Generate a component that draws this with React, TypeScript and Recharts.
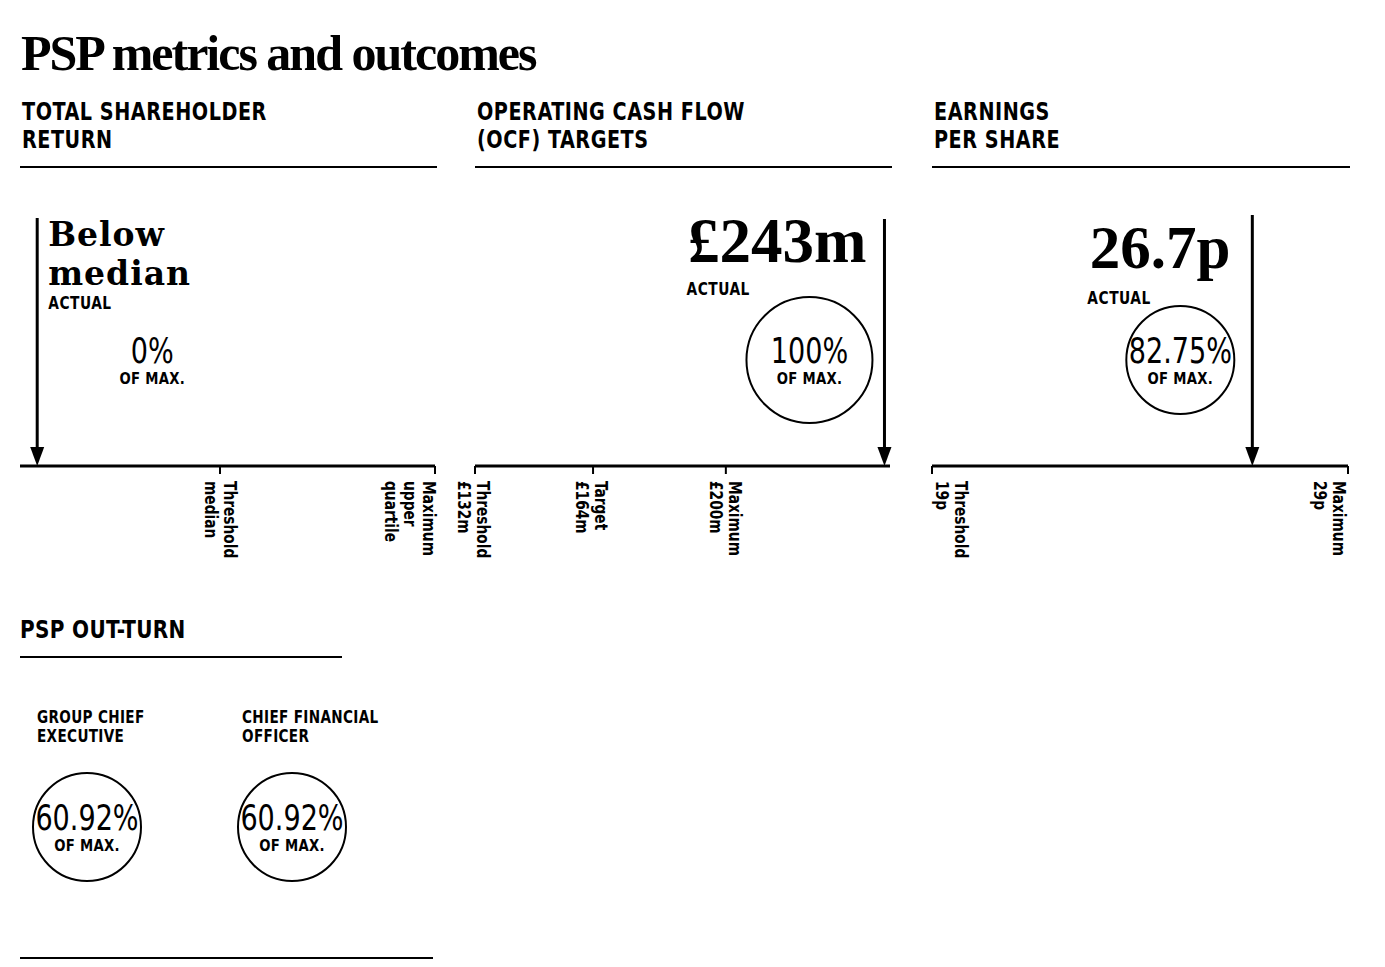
import React from 'react'
import { ComposedChart, ScatterChart, Scatter, XAxis, YAxis, ReferenceLine } from 'recharts'

const SERIF = '"Liberation Serif", "Times New Roman", serif'
const SLAB = '"DejaVu Serif", "Liberation Serif", serif'
const NARROW = '"Liberation Sans Narrow", "DejaVu Sans Condensed", "Arial Narrow", sans-serif'

// Total shareholder return (ordinal scale: below median / median / upper quartile)
const tsrTicks = [1, 2]
const tsrTickLabels = [['Threshold', 'median'], ['Maximum', 'upper', 'quartile']]
const tsrDomain = [0.07, 2]
const tsrActual = 0.15
const tsrActualText = ['Below', 'median']
const tsrOutcome = 0

// Operating cash flow (£m)
const ocfTicks = [132, 164, 200]
const ocfTickLabels = [['Threshold', '£132m'], ['Target', '£164m'], ['Maximum', '£200m']]
const ocfDomain = [132, 244.5]
const ocfActual = 243
const ocfActualText = ['£243m']
const ocfOutcome = 100

// Earnings per share (p)
const epsTicks = [19, 29]
const epsTickLabels = [['Threshold', '19p'], ['Maximum', '29p']]
const epsDomain = [19, 29]
const epsActual = 26.7
const epsActualText = ['26.7p']
const epsOutcome = 82.75

// PSP out-turn
const outturnRoles = [['GROUP CHIEF', 'EXECUTIVE'], ['CHIEF FINANCIAL', 'OFFICER']]
const outturnValues = [60.92, 60.92]

interface Panel {
  title: string[]
  ticks: number[]
  tickLabels: string[][]
  tickDx: number[]
  domain: number[]
  actual: number
  actualText: string[]
  outcome: number
  plotLeft: number
  plotRight: number
  arrowTop: number
  note: {
    font: string
    size: number
    spacing: number
    anchor: 'start' | 'end'
    dx: number
    dy: number
    lh: number
    actualDx: number
    actualDy: number
    ringDx: number
    ringDy: number
    ring: number
  }
}

const panels: Panel[] = [
  {
    title: ['TOTAL SHAREHOLDER', 'RETURN'],
    ticks: tsrTicks, tickLabels: tsrTickLabels, tickDx: [4, -12],
    domain: tsrDomain, actual: tsrActual, actualText: tsrActualText, outcome: tsrOutcome,
    plotLeft: 20, plotRight: 435, arrowTop: 218,
    note: { font: SLAB, size: 33, spacing: 1, anchor: 'start', dx: 11, dy: 28, lh: 38.6,
      actualDx: 11, actualDy: 91, ringDx: 115, ringDy: 142, ring: 0 },
  },
  {
    title: ['OPERATING CASH FLOW', '(OCF) TARGETS'],
    ticks: ocfTicks, tickLabels: ocfTickLabels, tickDx: [2, 2, 3],
    domain: ocfDomain, actual: ocfActual, actualText: ocfActualText, outcome: ocfOutcome,
    plotLeft: 475, plotRight: 890, arrowTop: 219,
    note: { font: SERIF, size: 63, spacing: 0, anchor: 'end', dx: -18, dy: 43, lh: 0,
      actualDx: -198, actualDy: 76, ringDx: -75, ringDy: 141, ring: 63 },
  },
  {
    title: ['EARNINGS', 'PER SHARE'],
    ticks: epsTicks, tickLabels: epsTickLabels, tickDx: [23, -15],
    domain: epsDomain, actual: epsActual, actualText: epsActualText, outcome: epsOutcome,
    plotLeft: 932, plotRight: 1348, arrowTop: 215,
    note: { font: SERIF, size: 61, spacing: 0, anchor: 'end', dx: -22, dy: 53, lh: 0,
      actualDx: -165, actualDy: 89, ringDx: -72, ringDy: 145, ring: 54 },
  },
]

const CHART_TOP = 180
const CHART_H = 400
const SIDE = 30

// condensed sans text: squeezed horizontally around its anchor point
function Cond({ x, y, sx = 0.88, rot = 0, size, bold = true, anchor = 'start', spacing = 0, children }: any) {
  return (
    <text transform={`translate(${x},${y})${rot ? ` rotate(${rot})` : ''} scale(${sx},1)`}
      fontFamily={NARROW} fontWeight={bold ? 700 : 400} fontSize={size} textAnchor={anchor}
      letterSpacing={spacing} fill="#000">
      {children}
    </text>
  )
}

function Outcome({ cx, cy, value, ring }: { cx: number; cy: number; value: number; ring: number }) {
  return (
    <g>
      {ring > 0 && <circle cx={cx} cy={cy} r={ring} fill="none" stroke="#000" strokeWidth={2} />}
      <Cond x={cx} y={cy + 3} sx={0.86} size={35} bold={false} anchor="middle">{`${value}%`}</Cond>
      <Cond x={cx} y={cy + 24} sx={0.92} size={16} anchor="middle" spacing={0.3}>OF MAX.</Cond>
    </g>
  )
}

const makeArrow = (p: Panel) => (props: any) => {
  const x = props.x1
  const top = Math.min(props.y1, props.y2)
  const bottom = Math.max(props.y1, props.y2)
  const n = p.note
  return (
    <g>
      <line x1={x} x2={x} y1={top} y2={bottom - 16} stroke="#000" strokeWidth={3} />
      <polygon points={`${x - 7},${bottom - 19} ${x + 7},${bottom - 19} ${x},${bottom}`} fill="#000" />
      {p.actualText.map((t, i) => (
        <text key={i} x={x + n.dx} y={top + n.dy + i * n.lh} textAnchor={n.anchor}
          fontFamily={n.font} fontWeight={700} fontSize={n.size} letterSpacing={n.spacing} fill="#000">
          {t}
        </text>
      ))}
      <Cond x={x + n.actualDx} y={top + n.actualDy} sx={0.9} size={17} spacing={0.6}>ACTUAL</Cond>
      <Outcome cx={x + n.ringDx} cy={top + n.ringDy} value={p.outcome} ring={n.ring} />
    </g>
  )
}

const makeTick = (p: Panel) => (props: any) => {
  const { x, y, payload } = props
  const i = p.ticks.indexOf(payload.value)
  if (i < 0) return <g />
  return (
    <Cond x={x + p.tickDx[i]} y={y + 5} rot={90} sx={0.85} size={18}>
      {p.tickLabels[i].map((t, j) => (
        <tspan key={j} x={0} y={j * 19}>{t}</tspan>
      ))}
    </Cond>
  )
}

function MetricChart({ p }: { p: Panel }) {
  const w = p.plotRight - p.plotLeft + SIDE * 2
  const data = [{ v: p.actual, y: 0 }, { v: p.actual, y: 1 }]
  return (
    <div style={{ position: 'absolute', left: p.plotLeft - SIDE, top: CHART_TOP }}>
      <ComposedChart width={w} height={CHART_H} data={data}
        margin={{ top: p.arrowTop - CHART_TOP, right: SIDE, bottom: 14, left: SIDE }}>
        <XAxis dataKey="v" type="number" domain={p.domain} allowDataOverflow ticks={p.ticks} interval={0}
          height={100} tickSize={8} tick={makeTick(p)}
          axisLine={{ stroke: '#000', strokeWidth: 2.8 }} tickLine={{ stroke: '#000', strokeWidth: 2 }} />
        <YAxis dataKey="y" type="number" domain={[0, 1]} allowDataOverflow hide />
        <ReferenceLine x={p.actual} shape={makeArrow(p)} ifOverflow="visible" />
      </ComposedChart>
    </div>
  )
}

const outturnData = outturnValues.map((v, i) => ({ i, y: 0.5, value: v, role: outturnRoles[i] }))

const OutturnShape = (props: any) => {
  const { cx, cy, payload } = props
  return (
    <g>
      {payload.role.map((t: string, j: number) => (
        <Cond key={j} x={cx - 50} y={cy - 104 + j * 19} sx={0.84} size={18} spacing={0.4}>{t}</Cond>
      ))}
      <Outcome cx={cx} cy={cy} value={payload.value} ring={54} />
    </g>
  )
}

function Headings() {
  const h = (lines: string[], x: number) =>
    lines.map((t, i) => (
      <Cond key={t} x={x} y={120 + i * 28} sx={0.89} size={24} spacing={0.6}>{t}</Cond>
    ))
  return (
    <svg width={1385} height={967} style={{ position: 'absolute', left: 0, top: 0 }}>
      <text x={21} y={70} fontFamily={SERIF} fontWeight={700} fontSize={50} letterSpacing={-2} fill="#000">
        PSP metrics and outcomes
      </text>
      {panels.map((p, k) => (
        <g key={k}>
          {h(p.title, p.plotLeft + 2)}
          <line x1={p.plotLeft} x2={p.plotRight + 2} y1={167} y2={167} stroke="#000" strokeWidth={2} />
        </g>
      ))}
      <Cond x={20} y={638} sx={0.89} size={25} spacing={0.4}>PSP OUT-TURN</Cond>
      <line x1={20} x2={342} y1={657} y2={657} stroke="#000" strokeWidth={2} />
      <line x1={20} x2={433} y1={958} y2={958} stroke="#000" strokeWidth={2} />
    </svg>
  )
}

export default function App() {
  return (
    <div style={{ position: 'absolute', left: 0, top: 0, width: 1385, height: 967, background: '#fff', overflow: 'hidden' }}>
      <Headings />
      {panels.map((p, k) => <MetricChart key={k} p={p} />)}
      <div style={{ position: 'absolute', left: 0, top: 690 }}>
        <ScatterChart width={420} height={274} margin={{ top: 0, right: 128, bottom: 0, left: 87 }}>
          <XAxis dataKey="i" type="number" domain={[0, 1]} hide />
          <YAxis dataKey="y" type="number" domain={[0, 1]} hide />
          <Scatter data={outturnData} shape={OutturnShape} isAnimationActive={false} />
        </ScatterChart>
      </div>
    </div>
  )
}
